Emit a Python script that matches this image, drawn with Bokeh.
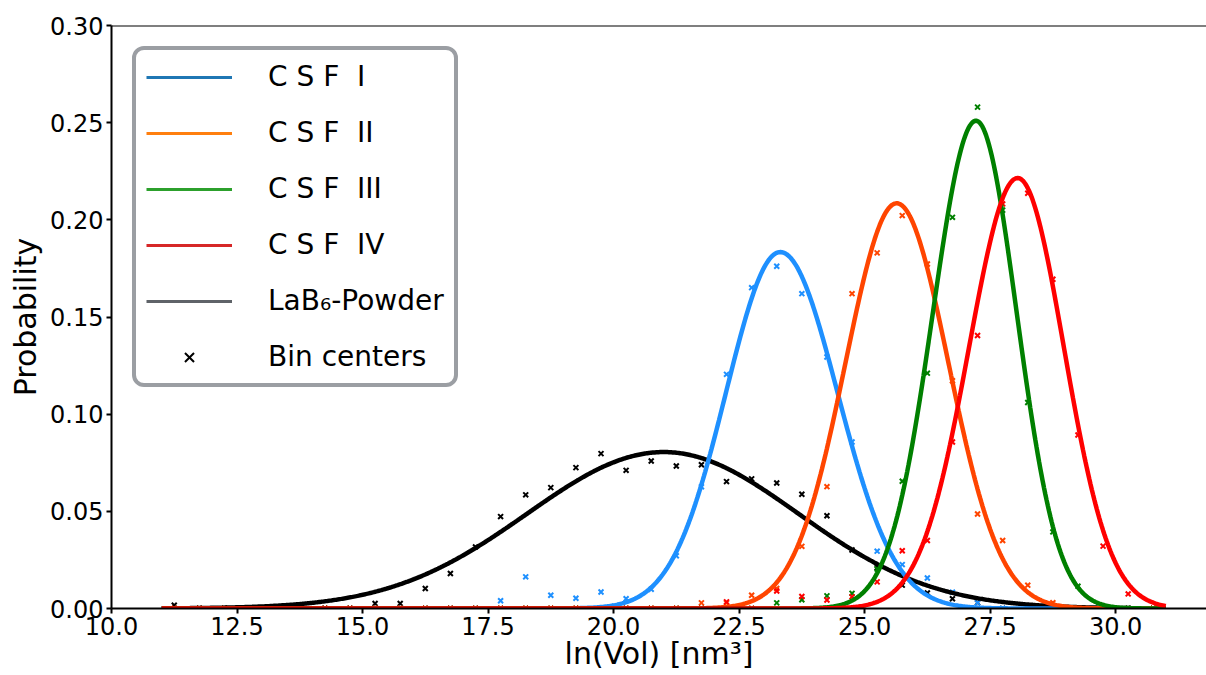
import numpy as np
from bokeh.plotting import figure
from bokeh.models import Range1d, FixedTicker, Span, Legend, LegendItem
from bokeh.embed import file_html
from bokeh.resources import INLINE

# ---- histogram of ln(Vol): bin centers and probability per bin ----
bin_centers = [11.25, 11.75, 12.25, 12.75, 13.25, 13.75, 14.25, 14.75, 15.25, 15.75,
               16.25, 16.75, 17.25, 17.75, 18.25, 18.75, 19.25, 19.75, 20.25, 20.75,
               21.25, 21.75, 22.25, 22.75, 23.25, 23.75, 24.25, 24.75, 25.25, 25.75,
               26.25, 26.75, 27.25, 27.75, 28.25, 28.75, 29.25, 29.75, 30.25, 30.75]

prob_lab6 = [0.0017, 0, 0, 0, 0, 0, 0, 0, 0.0026, 0.0026,
             0.0103, 0.0180, 0.0317, 0.0473, 0.0585, 0.0622, 0.0725, 0.0797, 0.0711, 0.0759,
             0.0733, 0.0740, 0.0653, 0.0667, 0.0646, 0.0588, 0.0477, 0.0301, 0.0210, 0.0120,
             0.0080, 0.0050, 0.0030, 0, 0, 0, 0, 0, 0, 0]

prob_csf1 = [0, 0, 0, 0, 0, 0, 0, 0, 0, 0,
             0, 0, 0, 0.0040, 0.0163, 0.0068, 0.0053, 0.0085, 0.0050, 0.0099,
             0.0271, 0.0626, 0.1205, 0.1651, 0.1761, 0.1620, 0.1294, 0.0857, 0.0295, 0.0226,
             0.0157, 0.0084, 0.0030, 0, 0, 0, 0, 0, 0, 0]

prob_csf2 = [0, 0, 0, 0, 0, 0, 0, 0, 0, 0,
             0, 0, 0, 0, 0, 0, 0, 0, 0, 0,
             0, 0.0029, 0.0029, 0.0068, 0.0103, 0.0320, 0.0627, 0.1620, 0.1830, 0.2022,
             0.1773, 0.1172, 0.0486, 0.0350, 0.0120, 0.0030, 0, 0, 0, 0]

prob_csf3 = [0, 0, 0, 0, 0, 0, 0, 0, 0, 0,
             0, 0, 0, 0, 0, 0, 0, 0, 0, 0,
             0, 0, 0, 0, 0.0029, 0.0045, 0.0065, 0.0078, 0.0203, 0.0655,
             0.1211, 0.2013, 0.2580, 0.2050, 0.1060, 0.0394, 0.0115, 0, 0, 0]

prob_csf4 = [0, 0, 0, 0, 0, 0, 0, 0, 0, 0,
             0, 0, 0, 0, 0, 0, 0, 0, 0, 0,
             0, 0, 0.0034, 0, 0.0090, 0.0062, 0.0044, 0.0060, 0.0137, 0.0297,
             0.0350, 0.0857, 0.1405, 0.2082, 0.2137, 0.1694, 0.0893, 0.0321, 0.0075, 0]

# ---- fitted normal curves: peak position, peak height, widths left/right ----
fit_center = {"csf1": 23.32, "csf2": 25.64, "csf3": 27.22, "csf4": 28.05, "lab6": 21.00}
fit_peak = {"csf1": 0.1834, "csf2": 0.2085, "csf3": 0.2510, "csf4": 0.2215, "lab6": 0.0805}
fit_sigma_left = {"csf1": 1.08, "csf2": 1.02, "csf3": 0.86, "csf4": 0.97, "lab6": 2.72}
fit_sigma_right = {"csf1": 1.14, "csf2": 1.03, "csf3": 0.81, "csf4": 0.92, "lab6": 2.68}
fit_range = (11.0, 31.0)

x_ticks = [10.0, 12.5, 15.0, 17.5, 20.0, 22.5, 25.0, 27.5, 30.0]
x_tick_labels = ["10.0", "12.5", "15.0", "17.5", "20.0", "22.5", "25.0", "27.5", "30.0"]
y_ticks = [0.0, 0.05, 0.10, 0.15, 0.20, 0.25, 0.30]
y_tick_labels = ["0.00", "0.05", "0.10", "0.15", "0.20", "0.25", "0.30"]

FONT = "DejaVu Sans"

p = figure(width=1206, height=675, title=None,
           x_range=Range1d(10.0, 31.81), y_range=Range1d(0.0, 0.30),
           output_backend="svg", toolbar_location=None,
           min_border_left=111, min_border_right=0,
           min_border_top=25, min_border_bottom=67)
p.outline_line_color = None
p.background_fill_color = "white"
p.border_fill_color = "white"
p.xgrid.visible = False
p.ygrid.visible = False

for ax in (p.xaxis[0], p.yaxis[0]):
    ax.axis_line_width = 2
    ax.axis_line_color = "black"
    ax.major_tick_line_width = 2
    ax.major_tick_in = 0
    ax.major_tick_out = 5
    ax.minor_tick_line_color = None
    ax.major_label_text_font = FONT
    ax.major_label_text_font_size = "24px"
    ax.major_label_text_color = "black"
    ax.major_label_standoff = 3
    ax.axis_label_text_font = FONT
    ax.axis_label_text_font_size = "30px"
    ax.axis_label_text_font_style = "normal"
    ax.axis_label_text_color = "black"

p.xaxis.ticker = FixedTicker(ticks=x_ticks)
p.xaxis.major_label_overrides = dict(zip(x_ticks, x_tick_labels))
p.yaxis.ticker = FixedTicker(ticks=y_ticks)
p.yaxis.major_label_overrides = dict(zip(y_ticks, y_tick_labels))
p.xaxis.axis_label = "ln(Vol) [nm³]"
p.yaxis.axis_label = "Probability"
p.xaxis.axis_label_standoff = -2
p.yaxis.axis_label_standoff = 4

# top frame edge
p.add_layout(Span(location=0.30, dimension="width", line_color="black", line_width=2))

series = [
    ("lab6", prob_lab6, "black"),
    ("csf1", prob_csf1, "#1E90FF"),
    ("csf2", prob_csf2, "#FF4500"),
    ("csf3", prob_csf3, "#008000"),
    ("csf4", prob_csf4, "#FF0000"),
]

# bin-center markers underneath the fitted curves
for key, probs, color in series:
    p.scatter(bin_centers, probs, marker="x", size=7, line_width=2, line_color=color)

xs = np.linspace(fit_range[0], fit_range[1], 801)
for key, probs, color in series:
    mu = fit_center[key]
    s = np.where(xs < mu, fit_sigma_left[key], fit_sigma_right[key])
    ys = fit_peak[key] * np.exp(-0.5 * ((xs - mu) / s) ** 2)
    p.line(xs, ys, line_color=color, line_width=4.5)

# legend-only renderers (NaN data, nothing drawn in the frame)
nan = [np.nan]
leg_csf1 = p.line(nan, nan, line_color="#1f77b4", line_width=3)
leg_csf2 = p.line(nan, nan, line_color="#ff7f0e", line_width=3)
leg_csf3 = p.line(nan, nan, line_color="#2ca02c", line_width=3)
leg_csf4 = p.line(nan, nan, line_color="#d62728", line_width=3)
leg_lab6 = p.line(nan, nan, line_color="#5f6368", line_width=3)
leg_bins = p.scatter(nan, nan, marker="x", size=8, line_width=2, line_color="black")

legend = Legend(items=[
    LegendItem(label="C S F  I", renderers=[leg_csf1]),
    LegendItem(label="C S F  II", renderers=[leg_csf2]),
    LegendItem(label="C S F  III", renderers=[leg_csf3]),
    LegendItem(label="C S F  IV", renderers=[leg_csf4]),
    LegendItem(label="LaB₆-Powder", renderers=[leg_lab6]),
    LegendItem(label="Bin centers", renderers=[leg_bins]),
], location="top_left")
legend.label_text_font = FONT
legend.label_text_font_size = "28px"
legend.label_text_color = "black"
legend.glyph_width = 86
legend.glyph_height = 32
legend.label_height = 32
legend.label_standoff = 36
legend.spacing = 23
legend.padding = 10
legend.margin = 21
legend.border_line_color = "#9b9ea3"
legend.border_line_width = 4
legend.border_line_alpha = 1.0
legend.background_fill_color = "white"
legend.background_fill_alpha = 1.0
if "border_radius" in Legend.properties():
    legend.border_radius = 12
p.add_layout(legend)

open("out.html", "w").write(file_html(p, INLINE))
